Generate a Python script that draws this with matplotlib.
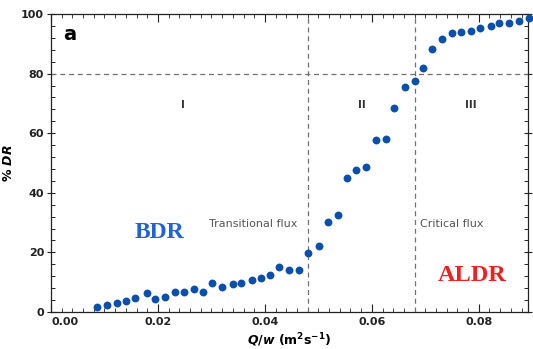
import matplotlib.pyplot as plt
from matplotlib.ticker import MultipleLocator

# data
qw = [0.0086, 0.0105, 0.0124, 0.0141, 0.0158, 0.0179, 0.0195, 0.0213,
      0.0231, 0.0249, 0.0267, 0.0285, 0.0302, 0.0320, 0.0340, 0.0356,
      0.0375, 0.0392, 0.0409, 0.0427, 0.0445, 0.0463, 0.0481, 0.0501,
      0.0518, 0.0536, 0.0553, 0.0571, 0.0589, 0.0607, 0.0626, 0.0642,
      0.0662, 0.0680, 0.0695, 0.0713, 0.0731, 0.0749, 0.0766, 0.0786,
      0.0803, 0.0822, 0.0838, 0.0857, 0.0875, 0.0893]
dr = [1.6, 2.5, 3.1, 3.6, 4.8, 6.4, 4.4, 5.1,
      6.8, 6.8, 7.7, 6.8, 9.7, 8.5, 9.4, 9.6,
      10.7, 11.3, 12.4, 15.0, 14.0, 14.0, 19.9, 22.0,
      30.3, 32.4, 44.8, 47.8, 48.6, 57.6, 58.2, 68.6,
      75.6, 77.5, 82.0, 88.3, 91.7, 93.5, 94.1, 94.3,
      95.4, 96.1, 96.9, 96.9, 97.7, 98.6]

flux_lines = [0.048, 0.0681]
dr_line = 80
region_x = [0.0247, 0.0581, 0.0785]
region_names = ["I", "II", "III"]

plt.rcParams['font.family'] = ['DejaVu Sans']

fig = plt.figure(figsize=(5.33, 3.49), dpi=100)
ax = fig.add_axes([51/533, 37/349, 477/533, 298/349])

ax.scatter(qw, dr, s=32, color='#0a4fae', zorder=3, clip_on=False, linewidths=0)

for x in flux_lines:
    ax.axvline(x, color='#707070', ls=(0, (4, 3)), lw=0.9)
ax.axhline(dr_line, color='#707070', ls=(0, (4, 3)), lw=0.9)

for x, name in zip(region_x, region_names):
    ax.text(x, 69.5, name, ha='center', va='center', fontsize=7.5,
            fontweight='bold', color='#333333')

ax.text(0.0296, 29.5, "Transitional flux", fontsize=8, color='#555555',
        ha='left', va='center')
ax.text(0.0690, 29.5, "Critical flux", fontsize=8, color='#555555',
        ha='left', va='center')
ax.text(0.0157, 26.8, "BDR", fontsize=17, fontweight='bold',
        family='Liberation Serif', color='#1f62dc', ha='left', va='center')
ax.text(0.0723, 12.2, "ALDR", fontsize=17.5, fontweight='bold',
        family='Liberation Serif', color='#f02020', ha='left', va='center')
ax.text(0.0022, 93.2, "a", fontsize=14, fontweight='bold', ha='left', va='center')

ax.set_xlim(0, 0.0892)
ax.set_ylim(0, 100)
ax.xaxis.set_major_locator(MultipleLocator(0.02))
ax.xaxis.set_minor_locator(MultipleLocator(0.002))
ax.yaxis.set_major_locator(MultipleLocator(20))
ax.yaxis.set_minor_locator(MultipleLocator(4))
ax.set_xticks([0, 0.02, 0.04, 0.06, 0.08])
ax.set_xticklabels(["0.00", "0.02", "0.04", "0.06", "0.08"], fontweight='bold')
ax.set_yticks([0, 20, 40, 60, 80, 100])
ax.set_yticklabels(["0", "20", "40", "60", "80", "100"], fontweight='bold')
ax.get_xticklabels()[0].set_horizontalalignment('left')

ax.tick_params(axis='x', which='both', direction='in', top=True, labelsize=8,
               colors='#222222')
ax.tick_params(axis='x', which='major', length=6, width=0.8)
ax.tick_params(axis='x', which='minor', length=3, width=0.6)
ax.tick_params(axis='y', which='major', direction='inout', length=6, width=0.8,
               right=True, labelsize=8, colors='#222222', pad=2)
ax.tick_params(axis='y', which='minor', direction='in', length=3, width=0.6,
               right=True)
for sp in ax.spines.values():
    sp.set_linewidth(0.9)
    sp.set_color('#222222')

ax.set_xlabel(r"$\boldsymbol{Q/w}$ (m$^{\mathbf{2}}$s$^{\mathbf{-1}}$)",
              fontsize=9, fontweight='bold', labelpad=3)
ax.set_ylabel(r"% $\boldsymbol{DR}$", fontsize=9, fontweight='bold')
ax.yaxis.set_label_coords(-0.075, 0.5)

fig.savefig("out.png", dpi=100)
